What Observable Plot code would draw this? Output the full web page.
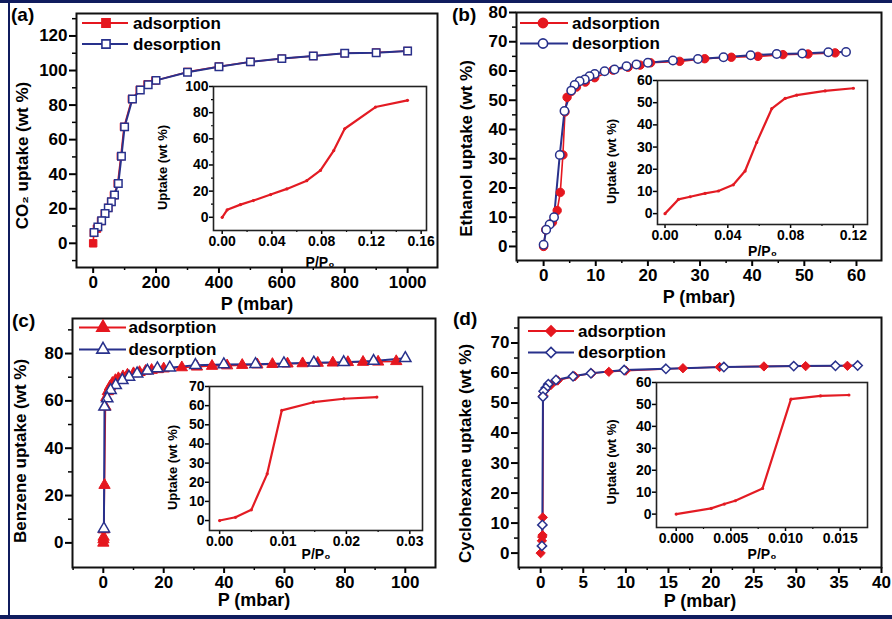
<!DOCTYPE html>
<html><head><meta charset="utf-8">
<script src="https://cdn.jsdelivr.net/npm/d3@7"></script>
<script src="https://cdn.jsdelivr.net/npm/@observablehq/plot@0.6"></script>
<style>
html,body{margin:0;padding:0;background:#fff;}
#wrap{position:relative;width:892px;height:619px;overflow:hidden;background:#fff;}
#wrap svg{position:absolute;left:0;top:0;}
.bar{position:absolute;background:#101c5e;}
</style></head><body>
<div id="wrap">
<div class="bar" style="left:0;top:0;width:892px;height:3px"></div>
<div class="bar" style="left:8px;top:0;width:2px;height:619px"></div>
<div class="bar" style="left:0;top:615px;width:892px;height:4px"></div>
</div>
<script>
// ---------- DATA ----------
// (a) CO2
const co2AdsP = [0, 2, 12, 25, 37, 48, 57, 66, 78, 88, 98, 123, 148, 173, 198, 300, 400, 500, 600, 700, 800, 900, 1000];
const co2AdsV = [0, 6, 8.5, 12.9, 17.2, 20.5, 24, 27.8, 34.6, 50.4, 67.4, 83.5, 88.8, 92, 94.2, 99.2, 102.3, 105, 106.9, 108.4, 110, 110.4, 111.3];
const co2DesP = [1000, 900, 800, 700, 600, 500, 400, 300, 200, 175, 150, 125, 100, 90, 80, 68, 58, 48, 38, 27, 15, 3];
const co2DesV = [111.3, 110.3, 110, 108.4, 106.9, 105, 102.2, 99, 94.3, 91.8, 88.7, 83.5, 67.4, 50.4, 34.6, 28, 24, 20.5, 17.2, 13, 9.5, 6.2];
const co2RelP = [0, 0.004, 0.0147, 0.025, 0.039, 0.052, 0.068, 0.079, 0.0897, 0.0985, 0.1233, 0.149];
const co2RelV = [0, 5.7, 9.7, 12.8, 17.4, 21.7, 28, 35.8, 51, 67.7, 84.3, 89.4];
// (b) Ethanol
const ethAdsP = [0, 0.4, 1.7, 2.6, 3.2, 3.7, 4.1, 4.5, 5.3, 6.3, 8, 9.8, 13.3, 16.2, 18.5, 20.5, 26.1, 30.9, 36, 41.1, 45.9, 50.7, 55.9];
const ethAdsV = [0, 5.7, 8.3, 12.3, 18.5, 31.3, 46, 51, 53, 54.5, 56.2, 57.7, 60.3, 61.3, 62, 62.8, 63.3, 64.2, 64.7, 65, 65.6, 65.8, 66.2];
const ethDesP = [58, 54.6, 49.6, 44.7, 39.7, 34.5, 29.6, 24.8, 20, 17.8, 15.9, 13.6, 11.7, 9.8, 8.8, 7.9, 6.9, 5.95, 5.3, 4, 3.1, 2, 1.15, 0.5, 0];
const ethDesV = [66.5, 66.4, 66, 65.8, 65.4, 64.7, 64.1, 63.6, 62.8, 62.2, 61.6, 60.5, 59.9, 59, 58.2, 57.1, 56.5, 55.2, 53.3, 46.3, 31.3, 10, 7.5, 5.7, 0.6];
const ethRelP = [0, 0.0085, 0.016, 0.0255, 0.034, 0.0435, 0.051, 0.0584, 0.068, 0.0765, 0.0839, 0.102, 0.12];
const ethRelV = [0, 6.4, 7.6, 9.1, 10.2, 13, 19.2, 32.1, 47.3, 51.9, 53.4, 55.3, 56.5];
// (c) Benzene
const benAdsP = [0, 0.05, 0.1, 0.2, 0.4, 0.7, 1, 1.5, 2.2, 3, 4, 5, 6.5, 8, 10, 12, 14, 16, 18, 20, 26, 31, 36, 41, 46, 51, 56, 61, 66, 71, 76, 81, 86, 91, 97];
const benAdsV = [0, 1.4, 2.5, 5.6, 24.4, 57.5, 61.5, 64, 66, 67.5, 68.7, 69.5, 70.3, 71, 71.6, 72.1, 72.6, 73, 73.3, 73.6, 74.1, 74.4, 74.7, 74.9, 75.1, 75.3, 75.5, 75.7, 75.8, 76, 76.1, 76.3, 76.4, 76.5, 76.7];
const benDesP = [100, 89.5, 79.6, 69.7, 59.8, 50.4, 39.9, 30.5, 22, 17.9, 14.6, 11.2, 8.5, 6.3, 4.1, 2.4, 1.3, 0.4, 0.2];
const benDesV = [78, 76.8, 76.3, 76.1, 75.8, 75.5, 75.4, 75.1, 74, 73.7, 72.7, 71.5, 70.1, 68.7, 66.6, 64.5, 61, 57.5, 6];
const benRelP = [0, 0.0025, 0.005, 0.0075, 0.0098, 0.0148, 0.0196, 0.0248];
const benRelV = [0, 1.7, 5.6, 24.4, 57.5, 61.8, 63.6, 64.5];
// (d) Cyclohexane
const cycAdsP = [0, 0.15, 0.18, 0.22, 0.25, 0.3, 0.6, 1.2, 2, 4, 6, 8, 10, 16.7, 21, 26.2, 31.1, 36];
const cycAdsV = [0, 4.1, 5.4, 6, 11.9, 52.5, 54.5, 56, 57.5, 58.9, 59.9, 60.4, 60.8, 61.6, 62, 62.2, 62.3, 62.4];
const cycDesP = [37.2, 34.6, 29.7, 21.5, 14.7, 9.8, 5.9, 3.8, 1.8, 0.9, 0.6, 0.35, 0.27, 0.2, 0.15];
const cycDesV = [62.5, 62.4, 62.3, 62, 61.4, 61, 59.9, 58.9, 57.7, 56.3, 55, 53.9, 52.1, 9.4, 2.4];
const cycRelP = [0, 0.0032, 0.0044, 0.0054, 0.0079, 0.0105, 0.0132, 0.0158];
const cycRelV = [0, 2.6, 4.6, 6.1, 11.7, 52.4, 53.9, 54.3];

// ticks
const aXTicks = [0, 200, 400, 600, 800, 1000], aXMinor = [100, 300, 500, 700, 900];
const aYTicks = [0, 20, 40, 60, 80, 100, 120], aYMinor = [-10, 10, 30, 50, 70, 90, 110, 130];
const bXTicks = [0, 10, 20, 30, 40, 50, 60], bXMinor = [-5, 5, 15, 25, 35, 45, 55];
const bYTicks = [0, 10, 20, 30, 40, 50, 60, 70, 80], bYMinor = [5, 15, 25, 35, 45, 55, 65, 75];
const cXTicks = [0, 20, 40, 60, 80, 100], cXMinor = [-10, 10, 30, 50, 70, 90];
const cYTicks = [0, 20, 40, 60, 80], cYMinor = [10, 30, 50, 70, 90];
const dXTicks = [0, 5, 10, 15, 20, 25, 30, 35, 40], dXMinor = [-2.5, 2.5, 7.5, 12.5, 17.5, 22.5, 27.5, 32.5, 37.5];
const dYTicks = [0, 10, 20, 30, 40, 50, 60, 70], dYMinor = [5, 15, 25, 35, 45, 55, 65, 75];
const aiXTicks = [0, 0.04, 0.08, 0.12, 0.16], aiXMinor = [0.02, 0.06, 0.10, 0.14];
const aiYTicks = [0, 20, 40, 60, 80, 100], aiYMinor = [10, 30, 50, 70, 90];
const biXTicks = [0, 0.04, 0.08, 0.12], biXMinor = [0.02, 0.06, 0.10];
const biYTicks = [0, 10, 20, 30, 40, 50, 60], biYMinor = [];
const ciXTicks = [0, 0.01, 0.02, 0.03], ciXMinor = [0.005, 0.015, 0.025];
const ciYTicks = [0, 10, 20, 30, 40, 50, 60, 70], ciYMinor = [];
const diXTicks = [0, 0.005, 0.010, 0.015], diXMinor = [0.0025, 0.0075, 0.0125];
const diYTicks = [0, 10, 20, 30, 40, 50, 60], diYMinor = [];

const titles = {a: "CO\u2082 uptake (wt %)", b: "Ethanol uptake (wt %)", c: "Benzene uptake (wt %)", d: "Cyclohexane uptake (wt %)"};
const xTitle = "P (mbar)", insetY = "Uptake (wt %)", insetX = "P/P\u2080";
const legendLabels = ["adsorption", "desorption"];
const panelLabels = ["(a)", "(b)", "(c)", "(d)"];

// ---------- DRAWING ----------
const W = 892, H = 619;
const FONT = '"Liberation Sans", Arial, Helvetica, sans-serif';
const RED = "#e5171f", BLUE = "#28318c", IRED = "#e31b23";
const wrap = document.getElementById("wrap");
const zip = (P, V) => P.map((p, i) => ({P: p, V: V[i]}));

function baseStyle(fs) {
  return {background: "transparent", fontFamily: FONT, fontSize: fs + "px", fontWeight: "bold", color: "#000", overflow: "visible"};
}

function mainPanel(c) {
  const [L, T, R, B] = c.frame;
  const ads = zip(c.adsP, c.adsV), des = zip(c.desP, c.desV);
  return Plot.plot({
    width: W, height: H, marginLeft: L, marginTop: T, marginRight: W - R, marginBottom: H - B,
    x: {domain: c.xDomain}, y: {domain: c.yDomain},
    style: baseStyle(17),
    marks: [
      Plot.axisY(c.yMinor, {anchor: "left", tickSize: 4, tickFormat: () => "", label: null, strokeWidth: 1.5}),
      Plot.axisY(c.yTicks, {anchor: "left", tickSize: 7, tickPadding: 2, tickFormat: d => String(d), label: null, strokeWidth: 2}),
      Plot.axisX(c.xMinor, {anchor: "bottom", tickSize: 3, tickFormat: () => "", label: null, strokeWidth: 1.5}),
      Plot.axisX(c.xTicks, {anchor: "bottom", tickSize: 6, tickPadding: 2, tickFormat: d => String(d), label: null, strokeWidth: 2}),
      Plot.text([c.yTitle], {text: d => d, frameAnchor: "left", textAnchor: "middle", rotate: -90, dx: c.yTitleDx, dy: c.yTitleDy, lineAnchor: "top", fontSize: 17}),
      Plot.text([xTitle], {text: d => d, frameAnchor: "bottom", textAnchor: "middle", dy: c.xTitleDy, lineAnchor: "bottom", fontSize: 18}),
      Plot.line(ads, {x: "P", y: "V", stroke: RED, strokeWidth: 1.6}),
      Plot.line(des, {x: "P", y: "V", stroke: BLUE, strokeWidth: 2}),
      Plot.dot(ads, {x: "P", y: "V", symbol: c.symbol, r: 4.2, fill: RED, stroke: RED, strokeWidth: 1}),
      Plot.dot(des, {x: "P", y: "V", symbol: c.symbol, r: 4.2, fill: "white", stroke: BLUE, strokeWidth: 1.5}),
      Plot.frame({stroke: "#111", strokeWidth: 2})
    ]
  });
}

function insetPanel(c) {
  const [L, T, R, B] = c.frame;
  const rel = zip(c.relP, c.relV);
  return Plot.plot({
    width: W, height: H, marginLeft: L, marginTop: T, marginRight: W - R, marginBottom: H - B,
    x: {domain: c.xDomain}, y: {domain: c.yDomain},
    style: baseStyle(14),
    marks: [
      Plot.frame({fill: "white", stroke: "none"}),
      Plot.axisY(c.yMinor, {anchor: "left", tickSize: 2, tickFormat: () => "", label: null, strokeWidth: 1.2}),
      Plot.axisY(c.yTicks, {anchor: "left", tickSize: 4, tickPadding: 1, tickFormat: d => String(d), label: null, strokeWidth: 1.5}),
      Plot.axisX(c.xMinor, {anchor: "bottom", tickSize: 2, tickFormat: () => "", label: null, strokeWidth: 1.2}),
      Plot.axisX(c.xTicks, {anchor: "bottom", tickSize: 4, tickPadding: 2, tickFormat: d3.format(c.xFmt), label: null, strokeWidth: 1.5}),
      Plot.text([insetY], {text: d => d, frameAnchor: "left", textAnchor: "middle", rotate: -90, dx: c.yTitleDx, dy: c.yTitleDy, lineAnchor: "top", fontSize: 13}),
      Plot.text([insetX], {text: d => d, frameAnchor: "bottom", textAnchor: "middle", dy: c.xTitleDy, lineAnchor: "bottom", fontSize: 14}),
      Plot.line(rel, {x: "P", y: "V", stroke: IRED, strokeWidth: 2.2}),
      Plot.dot(rel, {x: "P", y: "V", r: 1.6, fill: IRED}),
      Plot.frame({stroke: "#222", strokeWidth: 1.6})
    ]
  });
}

const mains = [
  {frame: [76, 13, 437, 267], xDomain: [-53, 1095], yDomain: [-14, 133], xTicks: aXTicks, xMinor: aXMinor, yTicks: aYTicks, yMinor: aYMinor,
   adsP: co2AdsP, adsV: co2AdsV, desP: co2DesP, desV: co2DesV, symbol: "square", yTitle: titles.a, yTitleDx: -61, yTitleDy: 15, xTitleDy: 42},
  {frame: [516, 12, 881, 260], xDomain: [-5.2, 64.8], yDomain: [-4.8, 80], xTicks: bXTicks, xMinor: bXMinor, yTicks: bYTicks, yMinor: bYMinor,
   adsP: ethAdsP, adsV: ethAdsV, desP: ethDesP, desV: ethDesV, symbol: "circle", yTitle: titles.b, yTitleDx: -57, yTitleDy: 12, xTitleDy: 42},
  {frame: [72, 318, 435, 567], xDomain: [-10.2, 110], yDomain: [-10.4, 94.8], xTicks: cXTicks, xMinor: cXMinor, yTicks: cYTicks, yMinor: cYMinor,
   adsP: benAdsP, adsV: benAdsV, desP: benDesP, desV: benDesV, symbol: "triangle", yTitle: titles.c, yTitleDx: -59, yTitleDy: 8, xTitleDy: 38},
  {frame: [518, 317, 881, 567], xDomain: [-2.6, 40], yDomain: [-4.8, 78.5], xTicks: dXTicks, xMinor: dXMinor, yTicks: dYTicks, yMinor: dYMinor,
   adsP: cycAdsP, adsV: cycAdsV, desP: cycDesP, desV: cycDesV, symbol: "diamond2", yTitle: titles.d, yTitleDx: -60, yTitleDy: 11, xTitleDy: 39}
];
const insets = [
  {frame: [213, 86, 426, 230], xDomain: [-0.007, 0.1643], yDomain: [-10.1, 100], xTicks: aiXTicks, xMinor: aiXMinor, yTicks: aiYTicks, yMinor: aiYMinor, xFmt: ".2f",
   relP: co2RelP, relV: co2RelV, yTitleDx: -56, yTitleDy: 9, xTitleDy: 36},
  {frame: [657, 80, 867, 224], xDomain: [-0.0048, 0.129], yDomain: [-4.9, 60], xTicks: biXTicks, xMinor: biXMinor, yTicks: biYTicks, yMinor: biYMinor, xFmt: ".2f",
   relP: ethRelP, relV: ethRelV, yTitleDx: -51, yTitleDy: 9, xTitleDy: 31},
  {frame: [209, 386, 422, 530], xDomain: [-0.0016, 0.032], yDomain: [-5.2, 70], xTicks: ciXTicks, xMinor: ciXMinor, yTicks: ciYTicks, yMinor: ciYMinor, xFmt: ".2f",
   relP: benRelP, relV: benRelV, yTitleDx: -42, yTitleDy: 9, xTitleDy: 28},
  {frame: [656, 382, 867, 527], xDomain: [-0.0018, 0.0175], yDomain: [-6.1, 60], xTicks: diXTicks, xMinor: diXMinor, yTicks: diYTicks, yMinor: diYMinor, xFmt: ".3f",
   relP: cycRelP, relV: cycRelV, yTitleDx: -50, yTitleDy: 7, xTitleDy: 31}
];

mains.forEach(c => wrap.appendChild(mainPanel(c)));
insets.forEach(c => wrap.appendChild(insetPanel(c)));

// legends and panel labels
const legendPos = [
  {x0: 82, x1: 128, xm: 106, ys: [23, 44], tx: 133, sym: d3.symbolSquare},
  {x0: 520, x1: 568, xm: 543, ys: [23, 43.5], tx: 572, sym: d3.symbolCircle},
  {x0: 79, x1: 126, xm: 103, ys: [327.5, 349.5], tx: 128.5, sym: d3.symbolTriangle},
  {x0: 528, x1: 574, xm: 551, ys: [331, 352.5], tx: 578, sym: d3.symbolDiamond2}
];
const labelPos = [[11, 21], [452, 21], [12, 327], [453, 325]];
const ov = d3.select(wrap).append("svg").attr("width", W).attr("height", H)
  .style("font-family", FONT).style("font-weight", "bold");
legendPos.forEach(lp => {
  legendLabels.forEach((lab, i) => {
    const y = lp.ys[i], col = i === 0 ? RED : BLUE;
    ov.append("line").attr("x1", lp.x0).attr("x2", lp.x1).attr("y1", y).attr("y2", y)
      .attr("stroke", col).attr("stroke-width", 2);
    ov.append("path").attr("d", d3.symbol().type(lp.sym).size(Math.PI * 4.6 * 4.6)())
      .attr("transform", `translate(${lp.xm},${y})`)
      .attr("fill", i === 0 ? RED : "white").attr("stroke", col).attr("stroke-width", 1.6);
    ov.append("text").attr("x", lp.tx).attr("y", y).attr("dy", "0.35em")
      .attr("font-size", 17).text(lab);
  });
});
panelLabels.forEach((t, i) => {
  ov.append("text").attr("x", labelPos[i][0]).attr("y", labelPos[i][1]).attr("font-size", 19).text(t);
});
</script>
</body></html>
